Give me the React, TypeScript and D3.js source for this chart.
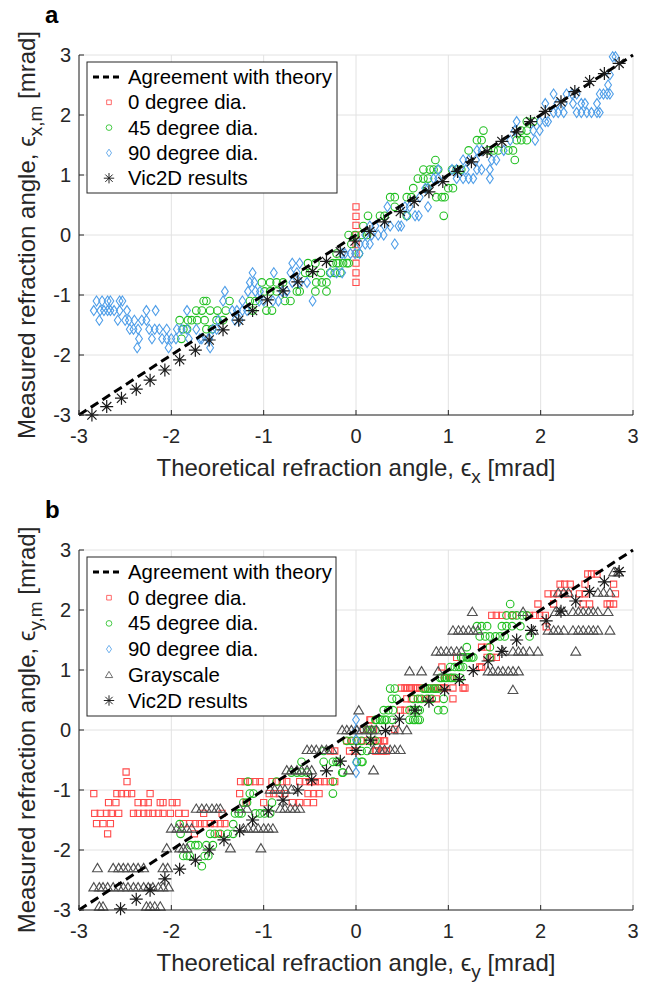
import React from 'react';
import * as d3 from 'd3';

type Row = [number, number[]];
type Pt = [number, number];

const TICKS = [-3, -2, -1, 0, 1, 2, 3];

// ---------- Panel a ----------
const zeroDegA: Row[] = [
  [0.47, [0]], [0.31, [0]], [0.16, [0]], [0.0, [0]], [-0.16, [0]],
  [-0.31, [0]], [-0.47, [0]], [-0.63, [0]], [-0.79, [0]],
];

const deg45A: Row[] = [
  [1.89, [1.85, 1.92]],
  [1.74, [1.38, 1.79, 1.85]],
  [1.58, [1.31, 1.36, 1.74, 1.79, 1.85]],
  [1.41, [1.22, 1.43, 1.49, 1.54, 1.65, 1.7]],
  [1.25, [0.86, 1.72]],
  [1.09, [0.73, 0.8, 0.84, 0.89, 1.04, 1.09, 1.14]],
  [0.94, [0.67, 0.73, 0.78]],
  [0.78, [0.62, 0.77, 1.0, 1.05]],
  [0.63, [0.37, 0.42, 0.55, 0.6, 0.87, 0.93, 0.96]],
  [0.47, [0.42]],
  [0.32, [0.13, 0.26, 0.31, 0.55, 0.95]],
  [0.15, [0.08]],
  [0.0, [-0.08, -0.01, 0.06, 0.12]],
  [-0.15, [-0.05]],
  [-0.31, [-0.21, 0.03]],
  [-0.47, [-0.52, -0.44, -0.25, -0.21, -0.19, -0.14, -0.1, -0.08]],
  [-0.63, [-0.55, -0.5, -0.38, -0.28, -0.23, -0.17]],
  [-0.79, [-1.02, -0.93, -0.86, -0.79, -0.43, -0.37, -0.32]],
  [-0.94, [-0.99, -0.93, -0.86, -0.64, -0.61, -0.44, -0.32]],
  [-1.1, [-1.65, -1.62, -1.37, -1.15, -1.09, -0.77, -0.71]],
  [-1.26, [-1.73, -1.67, -1.58, -1.5, -1.41, -1.12, -0.97, -0.91]],
  [-1.42, [-1.91, -1.82, -1.78, -1.72, -1.64, -1.51, -1.44]],
  [-1.57, [-1.87, -1.83, -1.62, -1.56]],
  [-1.73, [-1.89]],
];

const deg90A: Row[] = [
  [2.97, [2.78, 2.81]],
  [2.67, [2.75]],
  [2.5, [2.73]],
  [2.35, [2.14, 2.28, 2.34, 2.39, 2.64, 2.68, 2.72, 2.75]],
  [2.19, [2.05, 2.18, 2.25, 2.35, 2.44, 2.48, 2.61]],
  [2.04, [2.14, 2.19, 2.25, 2.39, 2.44, 2.5, 2.55, 2.61, 2.64]],
  [1.89, [1.74, 1.99, 2.05, 2.08]],
  [1.74, [1.72, 1.92, 1.99]],
  [1.58, [1.67, 1.94]],
  [1.41, [1.31, 1.36, 1.6]],
  [1.25, [1.16, 1.22, 1.3, 1.47, 1.52]],
  [1.09, [0.89, 1.04, 1.09, 1.19, 1.31, 1.36, 1.45]],
  [0.94, [0.84, 0.89, 1.09, 1.16, 1.22, 1.27, 1.45]],
  [0.78, [0.75, 0.78]],
  [0.63, [0.69]],
  [0.47, [0.34, 0.53, 0.58, 0.78]],
  [0.32, [0.55, 0.64, 0.68]],
  [0.15, [0.15, 0.21, 0.31, 0.37, 0.46, 0.49]],
  [0.0, [0.1, 0.17, 0.24, 0.3]],
  [-0.15, [0.04, 0.1, 0.15, 0.42]],
  [-0.31, [-0.15, -0.12, -0.06, -0.01, 0.04]],
  [-0.47, [-0.69, -0.61]],
  [-0.63, [-1.12, -0.89, -0.71, -0.64, -0.28, -0.21, -0.15]],
  [-0.79, [-1.15, -1.1, -0.69, -0.61, -0.53]],
  [-0.94, [-1.42, -1.17, -1.09, -1.04, -0.8, -0.75]],
  [-1.1, [-2.81, -2.75, -2.69, -2.66, -2.56, -2.53, -1.44, -1.23, -1.05, -1.0, -0.9, -0.84, -0.47]],
  [-1.26, [-2.84, -2.77, -2.73, -2.69, -2.66, -2.62, -2.56, -2.48, -2.27, -2.17, -1.83, -1.34, -1.29, -1.23, -1.18]],
  [-1.42, [-2.78, -2.58, -2.5, -2.46, -2.4, -2.32, -2.27, -1.49, -1.31, -1.26]],
  [-1.57, [-2.45, -2.41, -2.36, -2.24, -2.18, -2.13, -2.05, -1.94, -1.89, -1.83, -1.73, -1.55, -1.51]],
  [-1.73, [-2.35, -2.21, -2.1, -2.05, -2.0, -1.95, -1.81, -1.69, -1.67, -1.6, -1.59]],
  [-1.88, [-2.37, -2.03, -1.58]],
];

const vic2dA: Pt[] = [
  [-2.86, -3.0], [-2.7, -2.86], [-2.54, -2.72], [-2.38, -2.57], [-2.23, -2.42],
  [-2.07, -2.25], [-1.91, -2.08], [-1.74, -1.92], [-1.59, -1.75], [-1.44, -1.58],
  [-1.27, -1.42], [-1.12, -1.26], [-0.96, -1.08], [-0.79, -0.93], [-0.63, -0.78],
  [-0.47, -0.61], [-0.32, -0.44], [-0.17, -0.28], [-0.01, -0.1], [0.15, 0.06],
  [0.31, 0.22], [0.48, 0.39], [0.63, 0.56], [0.79, 0.72], [0.94, 0.89],
  [1.1, 1.06], [1.25, 1.22], [1.42, 1.39], [1.58, 1.56], [1.74, 1.72],
  [1.89, 1.89], [2.05, 2.06], [2.22, 2.22], [2.37, 2.39], [2.53, 2.56],
  [2.69, 2.69], [2.85, 2.86],
];

// ---------- Panel b ----------
const zeroDegB: Row[] = [
  [2.6, [2.51, 2.55, 2.61]],
  [2.43, [2.21, 2.26, 2.32, 2.48, 2.79]],
  [2.27, [2.08, 2.14, 2.19, 2.25, 2.3, 2.42, 2.48, 2.81]],
  [2.1, [1.97, 2.14, 2.46, 2.53, 2.72, 2.75, 2.79]],
  [1.91, [1.47, 1.52, 1.58, 1.7, 1.88, 1.94, 1.99, 2.05]],
  [1.72, [2.06]],
  [1.38, [1.36, 1.42]],
  [1.21, [1.09, 1.42, 1.47, 1.52]],
  [1.05, [0.93, 1.34, 1.36]],
  [0.86, [0.96, 0.98, 1.02, 1.04]],
  [0.7, [0.49, 0.53, 0.55, 0.58, 0.6, 0.64, 0.66, 0.69, 0.75, 0.84, 0.86, 0.89, 0.91, 0.95, 0.96, 1.05, 1.16, 1.18]],
  [0.52, [0.55, 0.6, 0.69, 0.75, 0.8, 0.87, 1.05]],
  [0.33, [0.48, 0.53]],
  [0.17, [0.15, 0.16]],
  [0.01, [0.08, 0.13, 0.19, 0.42]],
  [-0.18, [-0.1, -0.05, 0.01, 0.06, 0.12, 0.19, 0.24, 0.26, 0.3, 0.31]],
  [-0.35, [-0.28, -0.23, -0.07, -0.01, 0.21, 0.22, 0.28, 0.3, 0.33]],
  [-0.7, [-2.49]],
  [-0.86, [-2.48, -1.25, -1.2, -1.15, -1.09, -1.04, -0.91, -0.86, -0.8, -0.75, -0.61, -0.55, -0.5, -0.48, -0.44, -0.39, -0.34, -0.28, -0.23]],
  [-1.06, [-2.84, -2.59, -2.54, -2.48, -2.43, -2.23, -1.26, -0.94, -0.89, -0.83, -0.77, -0.52, -0.46, -0.4]],
  [-1.21, [-2.68, -2.6, -2.36, -2.3, -2.25, -2.12, -2.09, -1.99, -1.94, -1.19, -1.0, -0.69, -0.61, -0.53, -0.46]],
  [-1.39, [-2.83, -2.77, -2.7, -2.65, -2.57, -2.41, -2.36, -2.3, -2.25, -2.2, -2.14, -2.09, -2.01, -1.92, -1.85, -1.65, -1.45]],
  [-1.56, [-2.81, -2.74, -2.66, -1.87, -1.8, -1.74, -1.69, -1.64, -1.58, -1.53, -1.47, -1.42]],
  [-1.73, [-2.69, -1.75, -1.49]],
];

const deg45B: Row[] = [
  [2.1, [1.67]],
  [1.91, [1.63, 1.69, 1.74, 1.8, 1.85]],
  [1.73, [1.31, 1.36, 1.42, 1.58, 1.63, 1.69, 1.78]],
  [1.56, [1.34, 1.4, 1.45, 1.51, 1.56, 1.61, 1.88]],
  [1.38, [1.2, 1.45]],
  [1.21, [1.14, 1.16, 1.2, 1.22, 1.25, 1.27, 1.45]],
  [1.05, [1.02, 1.07, 1.11, 1.13, 1.16]],
  [0.87, [0.91, 0.93, 0.96, 0.98, 1.02, 1.04, 1.07, 1.13]],
  [0.69, [0.37, 0.42, 0.73, 0.75, 0.78, 0.8, 0.84, 0.86, 0.89]],
  [0.52, [0.39, 0.44, 0.62, 0.67, 0.71, 0.77, 0.82, 0.95]],
  [0.33, [0.3, 0.35, 0.4, 0.58, 0.62, 0.64, 0.67, 0.69, 0.89, 0.95]],
  [0.17, [0.21, 0.22, 0.26, 0.28, 0.31, 0.33, 0.39, 0.58, 0.62, 0.64, 0.67, 0.69]],
  [0.0, [0.12, 0.15, 0.17, 0.21]],
  [-0.18, [-0.1, -0.05, 0.01, 0.06, 0.15, 0.21]],
  [-0.35, [-0.35, 0.06, 0.12]],
  [-0.53, [-0.59, -0.35, -0.25, -0.21, -0.19, 0.01, 0.06, 0.07]],
  [-0.71, [-0.7, -0.64, -0.59, -0.53, -0.15, -0.14]],
  [-0.86, [-1.17, -0.86, -0.25]],
  [-1.06, [-1.15, -1.11, -0.25]],
  [-1.21, [-1.22, -1.18, -0.91]],
  [-1.39, [-1.31, -1.27, -1.24, -1.09, -1.04, -0.99, -0.93]],
  [-1.57, [-1.91, -1.33]],
  [-1.73, [-1.9, -1.58, -1.53, -1.47, -1.39, -1.33]],
  [-1.92, [-1.79, -1.74, -1.71, -1.62, -1.55]],
  [-2.1, [-1.87, -1.83, -1.8, -1.64, -1.6]],
  [-2.27, [-1.67]],
];

const deg90B: Row[] = [
  [0.17, [0]], [0.0, [0]], [-0.16, [0]], [-0.54, [0]], [-0.71, [0]],
];

const grayB: Row[] = [
  [2.63, [2.79, 2.84]],
  [2.29, [2.19, 2.25, 2.3, 2.62, 2.68, 2.75]],
  [1.97, [1.26, 1.81, 2.16, 2.21, 2.25, 2.35, 2.41, 2.46, 2.52, 2.57, 2.62, 2.73]],
  [1.66, [1.05, 1.11, 1.16, 1.22, 1.27, 1.32, 1.92, 2.08, 2.14, 2.19, 2.25, 2.35, 2.41, 2.46, 2.52, 2.57, 2.62, 2.75]],
  [1.31, [0.87, 0.92, 0.98, 1.03, 1.09, 1.14, 1.59, 1.7, 1.76, 1.81, 1.88, 1.97, 2.38]],
  [0.98, [0.58, 0.71, 0.89, 1.43, 1.48, 1.54, 1.59, 1.65, 1.7, 1.76]],
  [0.67, [1.7]],
  [0.33, [0.03]],
  [0.0, [-0.15, -0.1, -0.05, 0.01, 0.06, 0.12, 0.17, 0.22, 0.4, 0.46, 0.55]],
  [-0.33, [-0.53, -0.48, -0.43, -0.37, -0.32, -0.26, 0.19, 0.26, 0.31, 0.37, 0.42, 0.48]],
  [-0.67, [-0.75, -0.7, -0.64, -0.59, -0.53, -0.48, -0.08, 0.19]],
  [-0.99, [-0.93, -0.88, -0.82, -0.77, -0.7]],
  [-1.31, [-1.73, -1.67, -1.62, -1.56, -1.51, -1.47, -1.26, -1.18, -0.82, -0.77, -0.71, -0.66, -0.61]],
  [-1.64, [-2.0, -1.94, -1.89, -1.83, -1.78, -1.22, -1.17, -1.11, -1.06, -1.0, -0.95, -0.9]],
  [-1.97, [-2.05, -1.91, -1.87, -1.83, -1.36, -1.03]],
  [-2.3, [-2.8, -2.63, -2.57, -2.52, -2.47, -2.41, -2.36, -2.3, -2.09, -2.04]],
  [-2.62, [-2.84, -2.78, -2.74, -2.69, -2.63, -2.57, -2.52, -2.47, -2.41, -2.36, -2.3, -2.25, -2.2, -2.14, -2.09, -2.03]],
  [-2.94, [-2.78, -2.74, -2.27, -2.23, -2.18, -2.12]],
];

const vic2dB: Pt[] = [
  [-2.55, -2.98], [-2.38, -2.82], [-2.23, -2.67], [-2.07, -2.48], [-1.91, -2.32],
  [-1.74, -2.17], [-1.59, -2.0], [-1.43, -1.83], [-1.26, -1.68], [-1.12, -1.5],
  [-0.95, -1.35], [-0.79, -1.17], [-0.63, -1.0], [-0.48, -0.83], [-0.32, -0.68],
  [-0.17, -0.52], [0.0, -0.34], [0.16, -0.17], [0.32, -0.01], [0.47, 0.18],
  [0.64, 0.33], [0.79, 0.48], [0.96, 0.67], [1.12, 0.84], [1.27, 0.99],
  [1.43, 1.15], [1.58, 1.31], [1.74, 1.5], [1.9, 1.66], [2.06, 1.82],
  [2.22, 1.98], [2.38, 2.15], [2.53, 2.31], [2.69, 2.47], [2.85, 2.64],
];

const theoryLine: Pt[] = [[-3, -3], [3, 3]];

// ---------- styling ----------
const FONT = "'Liberation Sans', Arial, Helvetica, sans-serif";
const AX = '#262626';
const GRID = '#e2e2e2';
const RED = '#ff4a4a';
const GREEN = '#22c022';
const BLUE = '#4f9ee8';
const GRAY = '#505050';
const STAR = '#1a1a1a';

type MarkerKind = 'square' | 'circle' | 'diamond' | 'triangle' | 'star';

const markerPath: Record<MarkerKind, string> = {
  square: 'M-3.1,-3.1H3.1V3.1H-3.1Z',
  circle: 'M3.8,0A3.8,3.8,0,1,1,-3.8,0A3.8,3.8,0,1,1,3.8,0Z',
  diamond: 'M0,-5L3.4,0L0,5L-3.4,0Z',
  triangle: 'M0,-4.6L4.9,3.7L-4.9,3.7Z',
  star: 'M-6.5,0H6.5M0,-6.5V6.5M-4.6,-4.6L4.6,4.6M-4.6,4.6L4.6,-4.6',
};
const markerColor: Record<MarkerKind, string> = {
  square: RED, circle: GREEN, diamond: BLUE, triangle: GRAY, star: STAR,
};

function rowsToPts(rows: Row[]): Pt[] {
  return rows.flatMap(([y, xs]) => xs.map((x) => [x, y] as Pt));
}

const x = d3.scaleLinear().domain([-3, 3]).range([79, 633]);

interface Series { kind: MarkerKind; label: string; pts: Pt[] }

function Marker({ kind, cx, cy, scale = 1 }: { kind: MarkerKind; cx: number; cy: number; scale?: number }) {
  return (
    <path
      d={markerPath[kind]}
      transform={`translate(${cx},${cy}) scale(${scale})`}
      fill="none"
      stroke={markerColor[kind]}
      strokeWidth={kind === 'star' ? 1.2 : 1.1}
    />
  );
}

function Panel({ top, letter, sub, series, legendRect }: {
  top: number; letter: string; sub: string; series: Series[];
  legendRect: { x: number; y: number; w: number; h: number; rowH: number };
}) {
  const y = d3.scaleLinear().domain([-3, 3]).range([top + 360, top]);
  const line = d3.line<Pt>().x((d) => x(d[0])).y((d) => y(d[1]));
  const x0 = x.range()[0], x1 = x.range()[1];
  const y0 = y.range()[0], y1 = y.range()[1];
  const scatter = series.filter((s) => s.kind !== 'star');
  const stars = series.filter((s) => s.kind === 'star');
  const legendItems: { kind: MarkerKind | 'line'; label: string }[] = [
    { kind: 'line', label: 'Agreement with theory' },
    ...series.map((s) => ({ kind: s.kind, label: s.label })),
  ];
  return (
    <g>
      {TICKS.map((t) => (
        <line key={'gx' + t} x1={x(t)} x2={x(t)} y1={y0} y2={y1} stroke={GRID} strokeWidth={1} />
      ))}
      {TICKS.map((t) => (
        <line key={'gy' + t} x1={x0} x2={x1} y1={y(t)} y2={y(t)} stroke={GRID} strokeWidth={1} />
      ))}
      {scatter.map((s) => (
        <g key={s.label}>
          {s.pts.map((p, i) => <Marker key={i} kind={s.kind} cx={x(p[0])} cy={y(p[1])} />)}
        </g>
      ))}
      <path d={line(theoryLine) || ''} stroke="#000" strokeWidth={3} strokeDasharray="9,5" fill="none" />
      {stars.map((s) => (
        <g key={s.label}>
          {s.pts.map((p, i) => <Marker key={i} kind="star" cx={x(p[0])} cy={y(p[1])} />)}
        </g>
      ))}
      <line x1={x0} x2={x1} y1={y0} y2={y0} stroke={AX} strokeWidth={1} />
      <line x1={x0} x2={x0} y1={y0} y2={y1} stroke={AX} strokeWidth={1} />
      {TICKS.map((t) => (
        <g key={'tx' + t}>
          <line x1={x(t)} x2={x(t)} y1={y0} y2={y0 - 5} stroke={AX} />
          <text x={x(t)} y={y0 + 28} textAnchor="middle" fontSize={20} fill={AX} fontFamily={FONT}>{String(t)}</text>
        </g>
      ))}
      {TICKS.map((t) => (
        <g key={'ty' + t}>
          <line x1={x0} x2={x0 + 5} y1={y(t)} y2={y(t)} stroke={AX} />
          <text x={x0 - 8} y={y(t) + 7} textAnchor="end" fontSize={20} fill={AX} fontFamily={FONT}>{String(t)}</text>
        </g>
      ))}
      <text x={(x0 + x1) / 2} y={y0 + 61} textAnchor="middle" fontSize={24} fill={AX} fontFamily={FONT}>
        Theoretical refraction angle, ϵ<tspan fontSize={19} dy={7}>{sub}</tspan><tspan dy={-7}> [mrad]</tspan>
      </text>
      <text transform={`translate(35,${(y0 + y1) / 2}) rotate(-90)`} textAnchor="middle" fontSize={24} fill={AX} fontFamily={FONT}>
        Measured refraction angle, ϵ<tspan fontSize={19} dy={7}>{sub + ',m'}</tspan><tspan dy={-7}> [mrad]</tspan>
      </text>
      <text x={45} y={top - 32} fontSize={24} fontWeight="bold" fill="#000" fontFamily={FONT}>{letter}</text>
      <rect x={legendRect.x} y={legendRect.y} width={legendRect.w} height={legendRect.h} fill="#fff" stroke={AX} strokeWidth={1} />
      {legendItems.map((it, i) => {
        const cy = legendRect.y + 15 + i * legendRect.rowH;
        return (
          <g key={it.label}>
            {it.kind === 'line' ? (
              <line x1={legendRect.x + 6} x2={legendRect.x + 36} y1={cy} y2={cy} stroke="#000" strokeWidth={3} strokeDasharray="6,4" />
            ) : (
              <Marker kind={it.kind} cx={legendRect.x + 22} cy={cy} scale={it.kind === 'star' ? 0.8 : 0.75} />
            )}
            <text x={legendRect.x + 41} y={cy + 7} fontSize={20.4} fill="#000" fontFamily={FONT}>{it.label}</text>
          </g>
        );
      })}
    </g>
  );
}

export default function App() {
  const seriesA: Series[] = [
    { kind: 'square', label: '0 degree dia.', pts: rowsToPts(zeroDegA) },
    { kind: 'circle', label: '45 degree dia.', pts: rowsToPts(deg45A) },
    { kind: 'diamond', label: '90 degree dia.', pts: rowsToPts(deg90A) },
    { kind: 'star', label: 'Vic2D results', pts: vic2dA },
  ];
  const seriesB: Series[] = [
    { kind: 'square', label: '0 degree dia.', pts: rowsToPts(zeroDegB) },
    { kind: 'circle', label: '45 degree dia.', pts: rowsToPts(deg45B) },
    { kind: 'diamond', label: '90 degree dia.', pts: rowsToPts(deg90B) },
    { kind: 'triangle', label: 'Grayscale', pts: rowsToPts(grayB) },
    { kind: 'star', label: 'Vic2D results', pts: vic2dB },
  ];
  return (
    <svg width={647} height={986} style={{ position: 'absolute', left: 0, top: 0, background: '#fff' }}>
      <rect width={647} height={986} fill="#fff" />
      <Panel top={55} letter="a" sub="x" series={seriesA} legendRect={{ x: 87, y: 62, w: 250, h: 131, rowH: 25.3 }} />
      <Panel top={550} letter="b" sub="y" series={seriesB} legendRect={{ x: 87, y: 557, w: 249, h: 159, rowH: 25.7 }} />
    </svg>
  );
}
